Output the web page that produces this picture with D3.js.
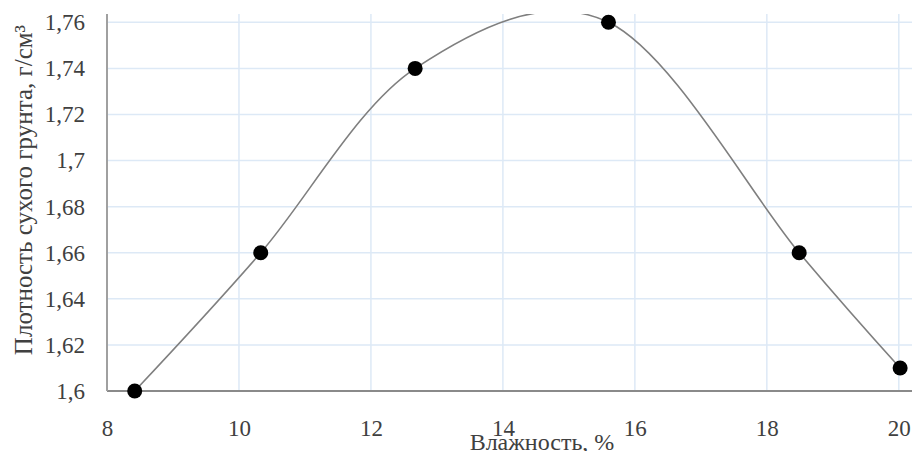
<!DOCTYPE html>
<html>
<head>
<meta charset="utf-8">
<script src="https://cdn.jsdelivr.net/npm/d3@7"></script>
<style>
  html, body { margin: 0; padding: 0; background: #ffffff; }
  svg { display: block; }
  svg text { font-family: "Liberation Serif", "Times New Roman", serif !important; }
</style>
</head>
<body>
<svg id="chart" width="912" height="451"></svg>
<script>
// ---- data ----
const moisture = [8.42, 10.33, 12.67, 15.6, 18.49, 20.02];
const density  = [1.60, 1.66, 1.74, 1.76, 1.66, 1.61];
const xTicks = [8, 10, 12, 14, 16, 18, 20];
const yTicks = [1.60, 1.62, 1.64, 1.66, 1.68, 1.70, 1.72, 1.74, 1.76];
const xTitle = "Влажность, %";
const yTitle = "Плотность сухого грунта, г/см³";

(function () {
const svg = d3.select("#chart");
const pL = 107, pR = 912, pT = 14, pB = 391;

const x = d3.scaleLinear().domain([8, 20.2]).range([pL, pR]);
const y = d3.scaleLinear().domain([1.6, 1.7636]).range([pB, pT]);

const fmt = v => String(+v.toFixed(2)).replace(".", ",");

// gridlines
const grid = svg.append("g").attr("stroke", "#dde9f6").attr("stroke-width", 1.5);
grid.selectAll("line.h").data(yTicks.filter(v => v > 1.6)).join("line")
  .attr("x1", pL).attr("x2", pR)
  .attr("y1", d => y(d)).attr("y2", d => y(d));
grid.selectAll("line.v").data(xTicks.filter(v => v > 8)).join("line")
  .attr("x1", d => x(d)).attr("x2", d => x(d))
  .attr("y1", pT).attr("y2", pB);

// titles (drawn first so tick labels stay readable on top)
svg.append("text").attr("x", 542).attr("y", 449.5).attr("text-anchor", "middle")
  .attr("font-size", 24).attr("fill", "#404040").text(xTitle);
svg.append("text").attr("transform", "translate(32,190) rotate(-90)").attr("text-anchor", "middle")
  .attr("font-size", 25).attr("fill", "#404040").text(yTitle);

// axes
const xAxis = d3.axisBottom(x).tickValues(xTicks).tickSize(0).tickPadding(0).tickFormat(d => d);
const gx = svg.append("g").attr("transform", `translate(0,${pB})`).call(xAxis)
  .attr("font-family", null).attr("font-size", null);
gx.select(".domain").attr("stroke", "#8a8a8a").attr("stroke-width", 2).attr("d", `M${pL},0H${pR}`);
gx.selectAll("text").attr("font-size", 23).attr("fill", "#404040")
  .attr("y", 45).attr("dy", "0");

const yAxis = d3.axisLeft(y).tickValues(yTicks).tickSize(0).tickPadding(22).tickFormat(fmt);
const gy = svg.append("g").attr("transform", `translate(${pL},0)`).call(yAxis)
  .attr("font-family", null).attr("font-size", null);
gy.select(".domain").attr("stroke", "#a0a0a0").attr("stroke-width", 2).attr("d", `M0,${pT}V${pB}`);
gy.selectAll("text").attr("font-size", 23).attr("fill", "#404040");

// clip
svg.append("clipPath").attr("id", "clip").append("rect")
  .attr("x", pL).attr("y", pT).attr("width", pR - pL).attr("height", pB - pT + 10);

const pts = moisture.map((m, i) => [m, density[i]]);
const line = d3.line().x(d => x(d[0])).y(d => y(d[1])).curve(d3.curveCardinal.tension(0));
svg.append("path").datum(pts).attr("clip-path", "url(#clip)")
  .attr("d", line).attr("fill", "none").attr("stroke", "#7f7f7f").attr("stroke-width", 1.6);

svg.append("g").selectAll("circle").data(pts).join("circle")
  .attr("cx", d => x(d[0])).attr("cy", d => y(d[1])).attr("r", 7.5).attr("fill", "#000");
})();
</script>
</body>
</html>
